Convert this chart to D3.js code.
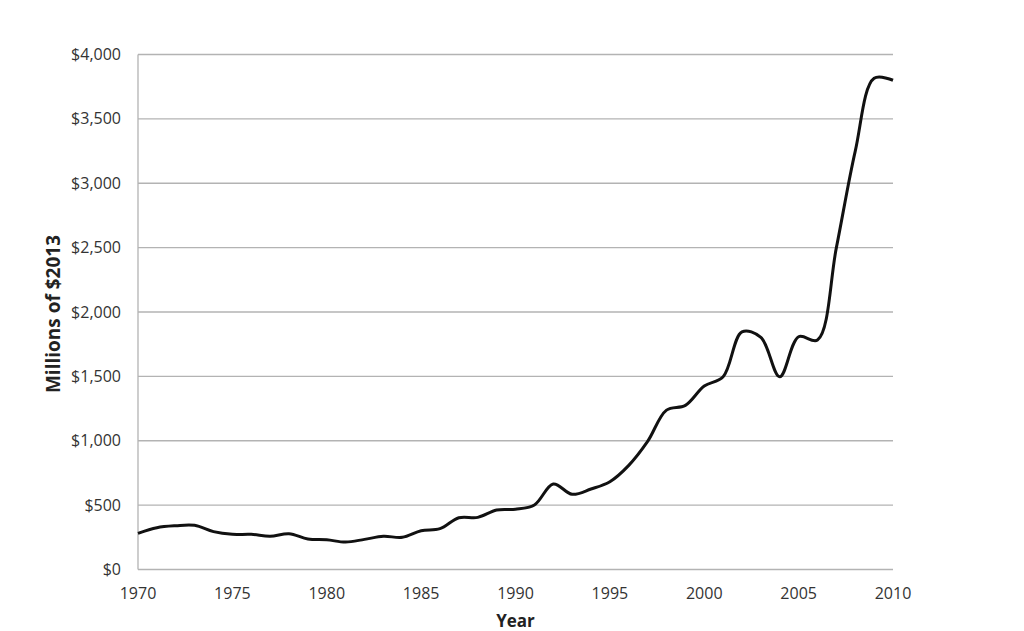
<!DOCTYPE html>
<html><head><meta charset="utf-8">
<script src="https://cdn.jsdelivr.net/npm/d3@7"></script>
<style>body{margin:0;background:#fff;} svg{display:block;}</style>
</head><body>
<svg id="c" width="1024" height="631"></svg>
<script>
const years = d3.range(1970, 2011);
const values = [281,325,340,343,294,273,273,258,278,237,231,213,234,258,250,301,317,402,405,462,468,501,664,584,625,682,809,995,1238,1275,1425,1497,1846,1803,1497,1808,1782,2500,3250,3815,3800];
const yTicks = [0,500,1000,1500,2000,2500,3000,3500,4000];
const xTicks = [1970,1975,1980,1985,1990,1995,2000,2005,2010];

const svg = d3.select("#c");
const m = {l:138, r:893, t:54.5, b:569.5};
const x = d3.scaleLinear().domain([1970,2010]).range([m.l, m.r]);
const y = d3.scaleLinear().domain([0,4000]).range([m.b, m.t]);
const font = "'Open Sans', sans-serif";

// gridlines
svg.append("g").selectAll("line").data(yTicks).join("line")
  .attr("x1", m.l).attr("x2", m.r)
  .attr("y1", d=>y(d)).attr("y2", d=>y(d))
  .attr("stroke", "#b3b3b3").attr("stroke-width", 1.3);
// left axis line
svg.append("line").attr("x1", m.l).attr("x2", m.l).attr("y1", m.t).attr("y2", m.b)
  .attr("stroke", "#b3b3b3").attr("stroke-width", 1.3);

// y tick labels
svg.append("g").selectAll("text").data(yTicks).join("text")
  .attr("x", 121).attr("y", d=>y(d)).attr("dy", "0.35em")
  .attr("text-anchor", "end").attr("font-family", font).attr("font-size", 16)
  .attr("fill", "#333").text(d => d3.format("$,")(d));

// x tick labels
svg.append("g").selectAll("text").data(xTicks).join("text")
  .attr("x", d=>x(d)).attr("y", 593).attr("dy", "0.35em")
  .attr("text-anchor", "middle").attr("font-family", font).attr("font-size", 16)
  .attr("fill", "#333").text(d => d);

// axis titles
svg.append("text").attr("x", (m.l+m.r)/2).attr("y", 621).attr("dy","0.35em")
  .attr("text-anchor","middle").attr("font-family", font).attr("font-size", 17)
  .attr("font-weight","bold").attr("fill","#222").text("Year");
svg.append("text").attr("transform", `translate(53,314) rotate(-90)`)
  .attr("dy","0.35em").attr("text-anchor","middle").attr("font-family", font).attr("font-size", 19)
  .attr("font-weight","bold").attr("fill","#222").text("Millions of $2013");

// line
const line = d3.line().x((d,i)=>x(years[i])).y(d=>y(d)).curve(d3.curveCatmullRom.alpha(0.5));
svg.append("path").datum(values).attr("d", line)
  .attr("fill","none").attr("stroke","#111").attr("stroke-width",3).attr("stroke-linejoin","round");
</script>
</body></html>
